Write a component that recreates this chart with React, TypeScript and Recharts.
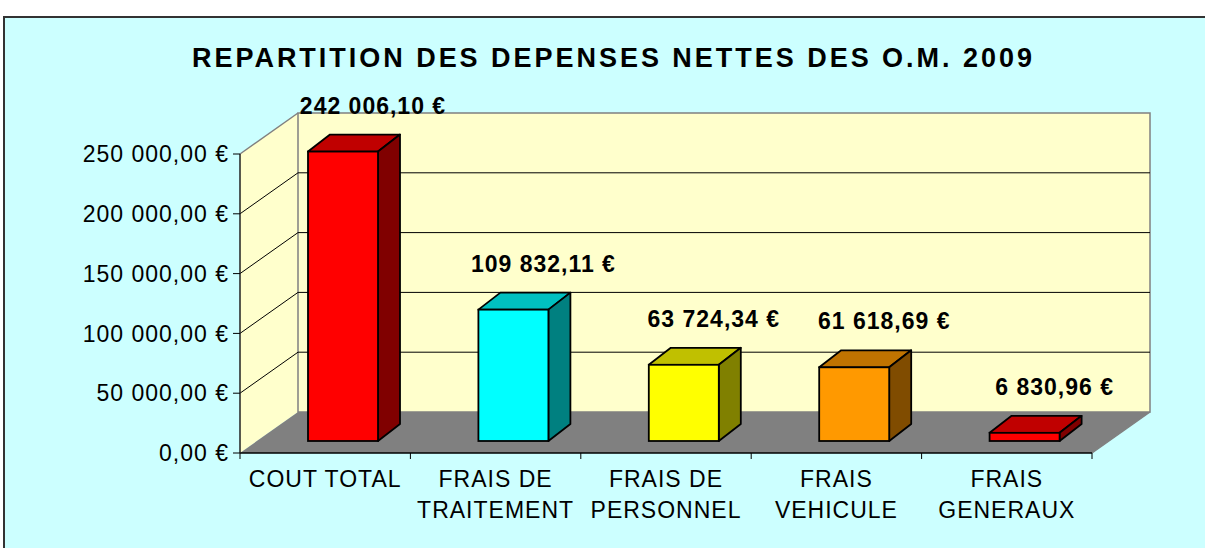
import { BarChart, Bar, XAxis, YAxis, CartesianGrid, Cell, LabelList } from "recharts"

const categories = ["COUT TOTAL", "FRAIS DE\nTRAITEMENT", "FRAIS DE\nPERSONNEL", "FRAIS\nVEHICULE", "FRAIS\nGENERAUX"]
const amounts = [242006.1, 109832.11, 63724.34, 61618.69, 6830.96]
const yTicks = [0, 50000, 100000, 150000, 200000, 250000]

const frontColors = ["#FF0000", "#00FFFF", "#FFFF00", "#FF9900", "#FF0000"]
const topColors = ["#C00000", "#00C0C0", "#C0C000", "#C07300", "#C00000"]
const sideColors = ["#800000", "#008080", "#808000", "#804C00", "#800000"]

const chartData = categories.map((c, i) => ({ name: c, value: amounts[i] }))

// depth of the 3D box (back wall offset) and bar placement inside it
const DX = 58
const DY = -41
const BAR_SHIFT_X = 18
const BAR_SHIFT_Y = -12
const BAR_DX = 22
const BAR_DY = -17

const FONT = "'Liberation Sans', Arial, sans-serif"

function euro(v: number) {
  const [i, d] = v.toFixed(2).split(".")
  return i.replace(/\B(?=(\d{3})+(?!\d))/g, " ") + "," + d + " €"
}

// back wall, side wall, floor and grid lines, drawn behind the bars
const renderGridLine = (p: any) => {
  const x = p.x ?? p.offset?.left
  const y = p.y ?? p.offset?.top
  const w = p.width ?? p.offset?.width
  const h = p.height ?? p.offset?.height
  const ly = p.y1
  const inner = ly > y + 0.5 && ly < y + h - 0.5
  return (
    <g key={p.key ?? `gl-${p.index}`}>
      {p.index === 0 && (
        <g>
          <rect x={x + DX} y={y + DY} width={w} height={h} fill="#FFFFCC" stroke="none" />
          <polygon
            points={`${x},${y} ${x + DX},${y + DY} ${x + DX},${y + h + DY} ${x},${y + h}`}
            fill="#FFFFCC"
          />
          <polygon
            points={`${x},${y + h} ${x + w},${y + h} ${x + w + DX},${y + h + DY} ${x + DX},${y + h + DY}`}
            fill="#808080"
          />
          <rect x={x + DX} y={y + DY} width={w} height={h} fill="none" stroke="#808080" strokeWidth={1.5} />
          <line x1={x} y1={y} x2={x + DX} y2={y + DY} stroke="#808080" strokeWidth={1.5} />
          <line x1={x + w} y1={y + h} x2={x + w + DX} y2={y + h + DY} stroke="#808080" strokeWidth={1.5} />
        </g>
      )}
      {inner && (
        <g>
          <line x1={x + DX} y1={ly + DY} x2={x + w + DX} y2={ly + DY} stroke="#000" strokeWidth={1} />
          <line x1={x} y1={ly} x2={x + DX} y2={ly + DY} stroke="#000" strokeWidth={1} />
        </g>
      )}
    </g>
  )
}

const Box3D = (p: any) => {
  const { x, y, width: w, height: h, index } = p
  const fx = x + BAR_SHIFT_X
  const fy = y + BAR_SHIFT_Y
  const sw = 1.8
  return (
    <g>
      <polygon
        points={`${fx},${fy} ${fx + BAR_DX},${fy + BAR_DY} ${fx + w + BAR_DX},${fy + BAR_DY} ${fx + w},${fy}`}
        fill={topColors[index]}
        stroke="#000"
        strokeWidth={sw}
        strokeLinejoin="round"
      />
      <polygon
        points={`${fx + w},${fy} ${fx + w + BAR_DX},${fy + BAR_DY} ${fx + w + BAR_DX},${fy + h + BAR_DY} ${fx + w},${fy + h}`}
        fill={sideColors[index]}
        stroke="#000"
        strokeWidth={sw}
        strokeLinejoin="round"
      />
      <rect x={fx} y={fy} width={w} height={h} fill={p.fill} stroke="#000" strokeWidth={sw} />
    </g>
  )
}

const ValueLabel = (p: any) => {
  const x = p.x ?? p.viewBox?.x
  const y = p.y ?? p.viewBox?.y
  const w = p.width ?? p.viewBox?.width
  return (
    <text
      x={x + w / 2 + BAR_SHIFT_X + 30}
      y={y + BAR_SHIFT_Y - 38}
      textAnchor="middle"
      fontFamily={FONT}
      fontWeight="bold"
      fontSize={23}
      letterSpacing={1}
      fill="#000"
    >
      {euro(Number(p.value))}
    </text>
  )
}

const CategoryTick = (p: any) => {
  const { x, y, payload, index } = p
  const half = payload?.offset ?? 85
  const lines = String(payload.value).split("\n")
  return (
    <g>
      <line x1={x - half} y1={y} x2={x - half} y2={y + 6} stroke="#000" />
      {index === categories.length - 1 && (
        <line x1={x + half} y1={y} x2={x + half} y2={y + 6} stroke="#000" />
      )}
      {lines.map((t, i) => (
        <text
          key={i}
          x={x}
          y={y + 34 + i * 31}
          textAnchor="middle"
          fontFamily={FONT}
          fontSize={23}
          letterSpacing={1}
          fill="#000"
        >
          {t}
        </text>
      ))}
    </g>
  )
}

const ValueTick = (p: any) => {
  const { x, y, payload } = p
  return (
    <text x={x} y={y} dy="0.355em" textAnchor="end" fontFamily={FONT} fontSize={23} letterSpacing={1} fill="#000">
      {euro(payload.value)}
    </text>
  )
}

export default function App() {
  return (
    <div style={{ position: "absolute", left: 0, top: 0, width: 1205, height: 548, background: "#fff", overflow: "hidden" }}>
      <div
        style={{
          position: "absolute",
          left: 3,
          top: 16,
          width: 1220,
          height: 560,
          background: "#CCFFFF",
          borderTop: "2px solid #333",
          borderLeft: "2px solid #333",
        }}
      />
      <svg width={1205} height={100} style={{ position: "absolute", left: 0, top: 0 }}>
        <text
          x={192}
          y={67}
          textLength={840}
          lengthAdjust="spacing"
          fontFamily={FONT}
          fontWeight="bold"
          fontSize={27}
          fill="#000"
        >
          REPARTITION DES DEPENSES NETTES DES O.M. 2009
        </text>
      </svg>
      <div style={{ position: "absolute", left: 0, top: 0 }}>
        <BarChart
          width={1205}
          height={548}
          data={chartData}
          margin={{ top: 154, right: 113, bottom: 35, left: 80 }}
        >
          <CartesianGrid horizontal={renderGridLine} vertical={false} />
          <XAxis
            dataKey="name"
            height={60}
            interval={0}
            axisLine={{ stroke: "#000", strokeWidth: 1.5 }}
            tickLine={false}
            tickSize={0}
            tickMargin={0}
            tick={<CategoryTick />}
          />
          <YAxis
            width={160}
            domain={[0, 250000]}
            ticks={yTicks}
            interval={0}
            axisLine={{ stroke: "#222", strokeWidth: 1.5 }}
            tickLine={{ stroke: "#000" }}
            tickSize={7}
            tickMargin={4}
            tick={<ValueTick />}
          />
          <Bar dataKey="value" barSize={70} shape={<Box3D />} isAnimationActive={false}>
            {chartData.map((d, i) => (
              <Cell key={d.name} fill={frontColors[i]} />
            ))}
            <LabelList dataKey="value" content={<ValueLabel />} />
          </Bar>
        </BarChart>
      </div>
    </div>
  )
}
